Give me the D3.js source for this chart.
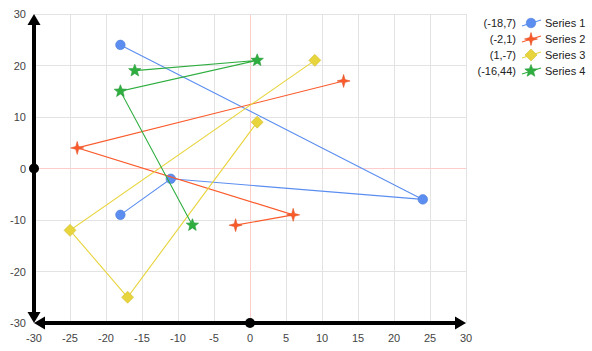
<!DOCTYPE html>
<html><head><meta charset="utf-8">
<script src="https://cdn.jsdelivr.net/npm/d3@7"></script>
<style>body{margin:0;background:#fff}svg{display:block;font-family:Arial,"Liberation Sans",sans-serif}</style>
</head><body><svg id="c" width="592" height="351"></svg>
<script>
const seriesNames = ["Series 1","Series 2","Series 3","Series 4"];
const legendLabels = ["(-18,7)","(-2,1)","(1,-7)","(-16,44)"];
const colors = ["#5b8ef0","#fb5a2a","#e8d43c","#2eae3f"];
const shapes = ["circle","star4","diamond","star5"];
const s1x = [-18, 24, -11, -18], s1y = [24, -6, -2, -9];
const s2x = [13, -24, 6, -2],    s2y = [17, 4, -9, -11];
const s3x = [9, -25, -17, 1],    s3y = [21, -12, -25, 9];
const s4x = [-16, 1, -18, -8],   s4y = [19, 21, 15, -11];
const xTicks = [-30,-25,-20,-15,-10,-5,0,5,10,15,20,25,30];
const yTicks = [-30,-20,-10,0,10,20,30];

const series = [[s1x,s1y],[s2x,s2y],[s3x,s3y],[s4x,s4y]].map(([xs,ys]) => xs.map((x,i)=>({x, y: ys[i]})));

const svg = d3.select("#c");
const x = d3.scaleLinear().domain([-30,30]).range([34,466]);
const y = d3.scaleLinear().domain([-30,30]).range([323,14]);

// grid
svg.append("g").selectAll("line").data(xTicks).join("line")
  .attr("x1", d=>x(d)).attr("x2", d=>x(d)).attr("y1", y(30)).attr("y2", y(-30))
  .attr("stroke", d=>d===0?"#ffcccc":"#e3e3e3").attr("stroke-width",1).attr("shape-rendering","crispEdges");
svg.append("g").selectAll("line").data(yTicks).join("line")
  .attr("y1", d=>y(d)).attr("y2", d=>y(d)).attr("x1", x(-30)).attr("x2", x(30))
  .attr("stroke", d=>d===0?"#ffcccc":"#e3e3e3").attr("stroke-width",1).attr("shape-rendering","crispEdges");

// tick labels
svg.append("g").selectAll("text").data(xTicks).join("text")
  .attr("x", d=>x(d)).attr("y", 342).attr("text-anchor","middle")
  .attr("font-size",11).attr("fill","#444").text(d=>d);
svg.append("g").selectAll("text").data(yTicks).join("text")
  .attr("x", 26).attr("y", d=>y(d)+4).attr("text-anchor","end")
  .attr("font-size",11).attr("fill","#444").text(d=>d);

// axes with arrows
const ax = svg.append("g");
const x0 = x(-30), y0 = y(-30);
ax.append("line").attr("x1",x0).attr("x2",x0).attr("y1",y(30)+8).attr("y2",y0-8).attr("stroke","#000").attr("stroke-width",4);
ax.append("line").attr("y1",y0).attr("y2",y0).attr("x1",x0+8).attr("x2",x(30)-8).attr("stroke","#000").attr("stroke-width",4);
function tri(tx,ty,dx,dy){
  const L=11, W=6.5, px=-dy, py=dx;
  return `M${tx},${ty}L${tx-dx*L+px*W},${ty-dy*L+py*W}L${tx-dx*L-px*W},${ty-dy*L-py*W}Z`;
}
ax.append("path").attr("d", tri(x0, y(30), 0, -1)).attr("fill","#000");
ax.append("path").attr("d", tri(x0, y0, 0, 1)).attr("fill","#000");
ax.append("path").attr("d", tri(x(30), y0, 1, 0)).attr("fill","#000");
ax.append("path").attr("d", tri(x0, y0, -1, 0)).attr("fill","#000");
ax.append("circle").attr("cx",x0).attr("cy",y(0)).attr("r",5).attr("fill","#000");
ax.append("circle").attr("cx",x(0)).attr("cy",y0).attr("r",5).attr("fill","#000");

function starPath(n, R, r){
  let p=[];
  for(let i=0;i<2*n;i++){
    const a = -Math.PI/2 + i*Math.PI/n;
    const rad = i%2===0?R:r;
    p.push([rad*Math.cos(a), rad*Math.sin(a)]);
  }
  return "M"+p.map(q=>q.map(v=>v.toFixed(2)).join(",")).join("L")+"Z";
}
function markerPath(shape){
  if(shape==="circle") return d3.symbol(d3.symbolCircle, 72)();
  if(shape==="star4") return starPath(4, 6.5, 2);
  if(shape==="diamond") return "M0,-6L6,0L0,6L-6,0Z";
  return starPath(5, 6.5, 2.8);
}

const line = d3.line().x(d=>x(d.x)).y(d=>y(d.y));
series.forEach((pts,i)=>{
  const g = svg.append("g");
  g.append("path").attr("d", line(pts)).attr("fill","none").attr("stroke",colors[i]).attr("stroke-width",1.1);
  g.selectAll("path.m").data(pts).join("path").attr("class","m")
    .attr("d", markerPath(shapes[i]))
    .attr("transform", d=>`translate(${x(d.x)},${y(d.y)})`)
    .attr("fill", colors[i]).attr("stroke", d3.color(colors[i]).darker(0.3)).attr("stroke-width",0.6);
});

// legend
const lg = svg.append("g");
seriesNames.forEach((name,i)=>{
  const cy = 23 + i*16;
  lg.append("text").attr("x",516).attr("y",cy+4).attr("text-anchor","end").attr("font-size",11).attr("fill","#222").text(legendLabels[i]);
  lg.append("line").attr("x1",522).attr("x2",541).attr("y1",cy+3).attr("y2",cy-3).attr("stroke",colors[i]).attr("stroke-width",1.1);
  lg.append("path").attr("d", markerPath(shapes[i])).attr("transform",`translate(531,${cy})`)
    .attr("fill",colors[i]).attr("stroke", d3.color(colors[i]).darker(0.3)).attr("stroke-width",0.6);
  lg.append("text").attr("x",545).attr("y",cy+4).attr("font-size",11).attr("fill","#222").text(name);
});
</script></body></html>
